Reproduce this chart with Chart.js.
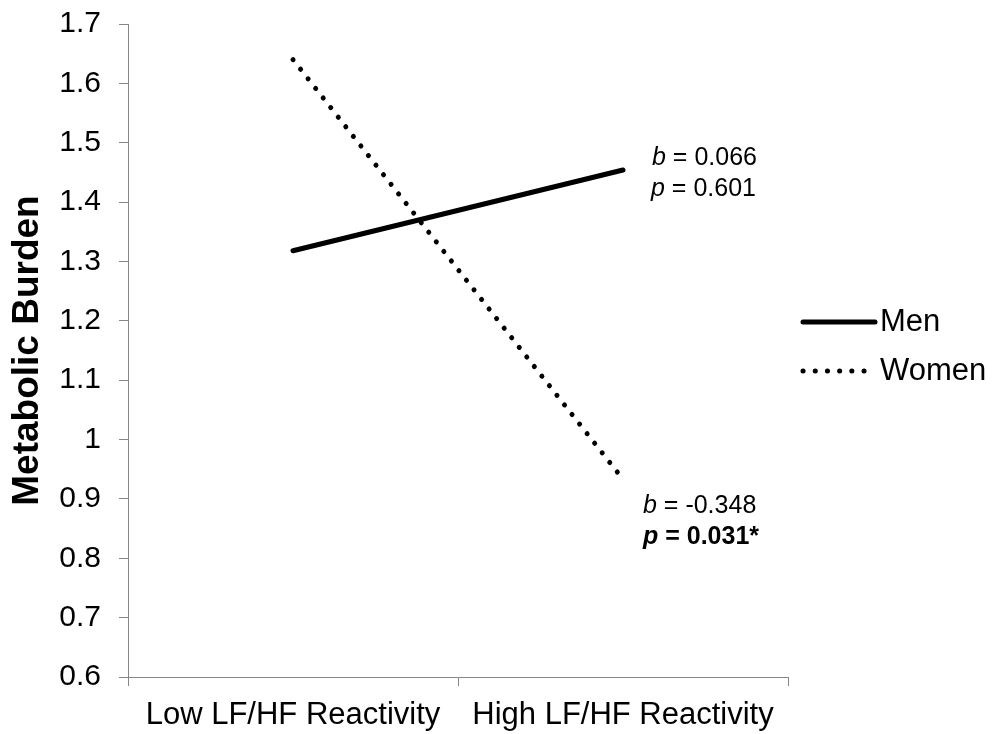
<!DOCTYPE html>
<html>
<head>
<meta charset="utf-8">
<script src="https://cdn.jsdelivr.net/npm/chart.js@4.4.1/dist/chart.umd.min.js"></script>
<style>
  html, body { margin: 0; padding: 0; background: #fff; }
  #wrap { position: relative; width: 995px; height: 734px; }
</style>
</head>
<body>
<div id="wrap"><canvas id="c"></canvas></div>
<script>
// ---- data ----
const categories = ['Low LF/HF Reactivity', 'High LF/HF Reactivity'];
const seriesNames = ['Men', 'Women'];
const menValues = [1.318, 1.454];
const womenValues = [1.640, 0.933];
const yTickValues = [0.6, 0.7, 0.8, 0.9, 1.0, 1.1, 1.2, 1.3, 1.4, 1.5, 1.6, 1.7];
const yTickLabels = ['0.6', '0.7', '0.8', '0.9', '1', '1.1', '1.2', '1.3', '1.4', '1.5', '1.6', '1.7'];
const yTitle = 'Metabolic Burden';
const menNote = [['b', ' = 0.066'], ['p', ' = 0.601']];
const womenNote = [['b', ' = -0.348'], ['p', ' = 0.031*']];

// ---- style ----
const FONT = '"Liberation Sans", Arial, Helvetica, sans-serif';
const AXIS = '#868686';

const notePlugin = {
  id: 'notes',
  afterDatasetsDraw(chart) {
    const ctx = chart.ctx;
    const xs = chart.scales.x, ys = chart.scales.y;
    const specs = [
      { lines: menNote, ds: 0, dx: [29, 28], dy: [-12, 19], boldSecond: false },
      { lines: womenNote, ds: 1, dx: [20, 20], dy: [27, 58], boldSecond: true }
    ];
    ctx.save();
    ctx.fillStyle = '#000';
    ctx.textBaseline = 'middle';
    ctx.textAlign = 'left';
    specs.forEach(s => {
      const vals = chart.data.datasets[s.ds].data;
      const px = xs.getPixelForValue(1);
      const py = ys.getPixelForValue(vals[1]);
      s.lines.forEach((ln, i) => {
        const bold = s.boldSecond && i === 1;
        let x = px + s.dx[i];
        const y = py + s.dy[i];
        ctx.font = 'italic ' + (bold ? 'bold ' : '') + '25px ' + FONT;
        ctx.fillText(ln[0], x, y);
        x += ctx.measureText(ln[0]).width;
        ctx.font = (bold ? 'bold ' : '') + '25px ' + FONT;
        ctx.fillText(ln[1], x, y);
      });
    });
    ctx.restore();
  }
};

const legendPlugin = {
  id: 'sideLegend',
  afterDraw(chart) {
    const ctx = chart.ctx;
    const a = chart.chartArea;
    const mid = (a.top + a.bottom) / 2;
    const offs = [-28.5, 20.5];
    ctx.save();
    chart.data.datasets.forEach((ds, i) => {
      const y = mid + offs[i];
      const x0 = a.right + 15, x1 = a.right + 87;
      ctx.beginPath();
      ctx.strokeStyle = ds.borderColor;
      ctx.lineWidth = ds.borderWidth;
      ctx.lineCap = ds.borderCapStyle || 'butt';
      ctx.setLineDash(ds.borderDash || []);
      ctx.moveTo(x0, y);
      ctx.lineTo(x1, y);
      ctx.stroke();
      ctx.setLineDash([]);
      ctx.fillStyle = '#000';
      ctx.font = '31px ' + FONT;
      ctx.textBaseline = 'middle';
      ctx.textAlign = 'left';
      ctx.fillText(ds.label, a.right + 92, y);
    });
    ctx.restore();
  }
};

new Chart(document.getElementById('c'), {
  type: 'line',
  data: {
    labels: categories,
    datasets: [
      {
        label: seriesNames[0], data: menValues,
        borderColor: '#000', borderWidth: 5, borderCapStyle: 'round',
        pointRadius: 0, tension: 0, fill: false
      },
      {
        label: seriesNames[1], data: womenValues,
        borderColor: '#000', borderWidth: 5, borderCapStyle: 'round',
        borderDash: [0.1, 12.1],
        pointRadius: 0, tension: 0, fill: false
      }
    ]
  },
  options: {
    responsive: true,
    maintainAspectRatio: false,
    animation: false,
    devicePixelRatio: 1,
    layout: { padding: { left: 0, top: 24, right: 207, bottom: 0 } },
    plugins: { legend: { display: false }, tooltip: { enabled: false } },
    scales: {
      x: {
        type: 'category',
        offset: true,
        grid: { offset: true, drawOnChartArea: false, drawTicks: true, tickLength: 9, color: AXIS, lineWidth: 1 },
        border: { color: AXIS, width: 1 },
        ticks: { color: '#000', font: { family: FONT, size: 31 }, padding: 11, maxRotation: 0, autoSkip: false },
        afterFit(s) { s.height = 57; s.paddingLeft = 0; s.paddingRight = 0; }
      },
      y: {
        min: 0.6, max: 1.7,
        grid: { drawOnChartArea: false, drawTicks: true, tickLength: 9, color: AXIS, lineWidth: 1 },
        border: { color: AXIS, width: 1 },
        afterBuildTicks(s) { s.ticks = yTickValues.map(v => ({ value: v })); },
        ticks: {
          color: '#000', font: { family: FONT, size: 30 }, padding: 18,
          callback: (v, i) => yTickLabels[i]
        },
        title: {
          display: true, text: yTitle, color: '#000',
          font: { family: FONT, size: 37, weight: 'bold' },
          padding: { top: 6, bottom: 0 }
        },
        afterFit(s) { s.width = 128; s.paddingTop = 0; s.paddingBottom = 0; }
      }
    }
  },
  plugins: [notePlugin, legendPlugin]
});
</script>
</body>
</html>
